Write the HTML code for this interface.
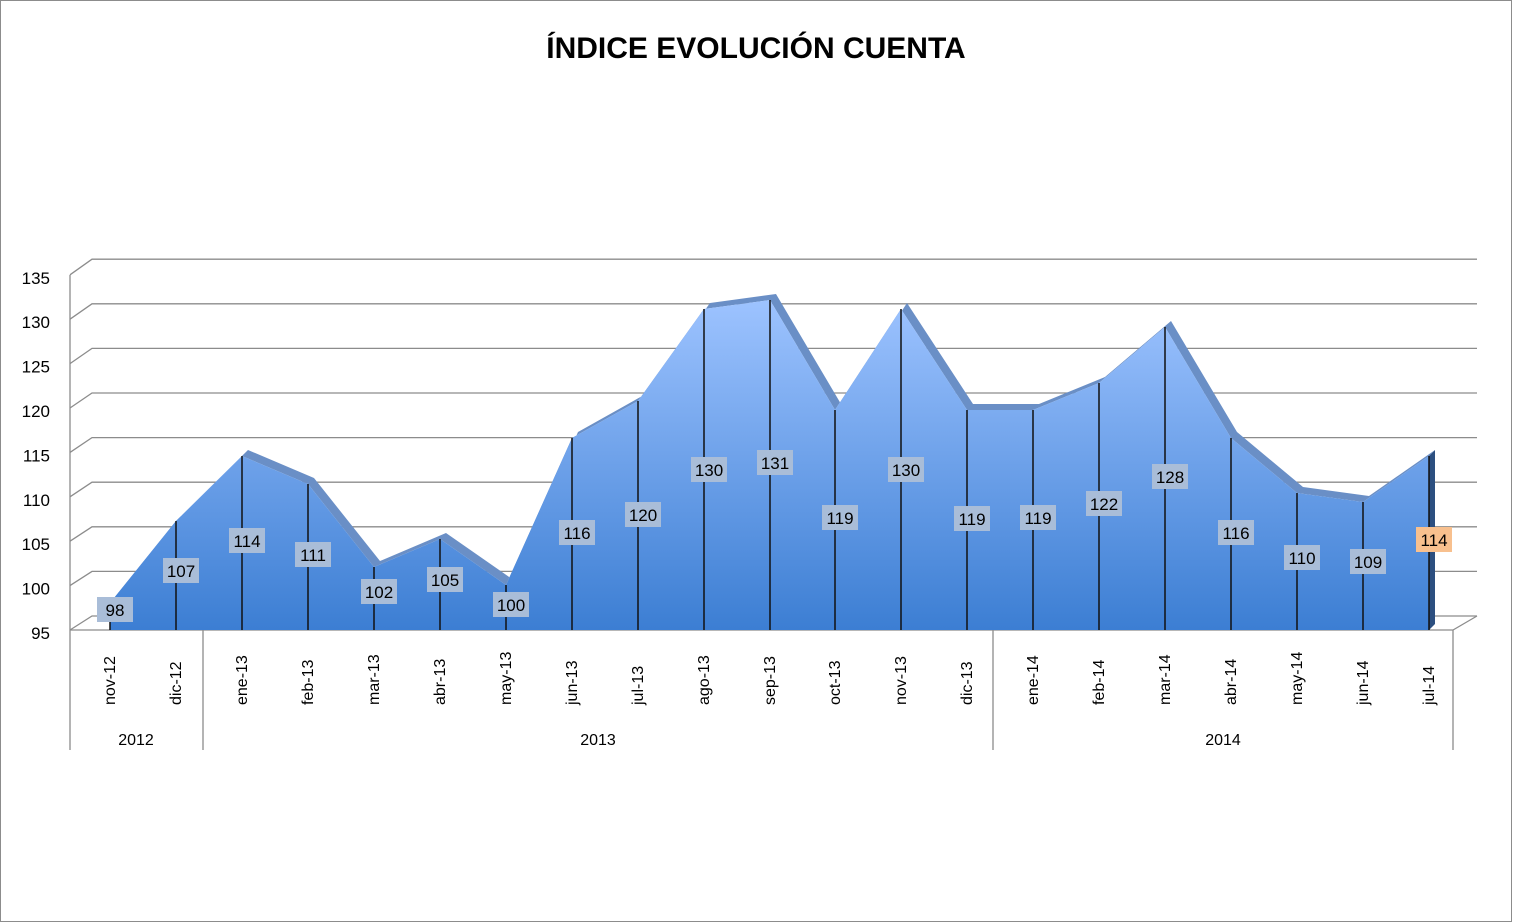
<!DOCTYPE html>
<html><head><meta charset="utf-8"><style>
html,body{margin:0;padding:0;background:#fff;}
svg{display:block;font-family:"Liberation Sans",sans-serif;}
</style></head><body>
<svg width="1513" height="923" viewBox="0 0 1513 923" xmlns="http://www.w3.org/2000/svg">
<defs>
<linearGradient id="ag" gradientUnits="userSpaceOnUse" x1="0" y1="300" x2="0" y2="630">
<stop offset="0" stop-color="#9dc3ff"/><stop offset="1" stop-color="#3c7ed3"/></linearGradient>
</defs>
<rect x="0.5" y="0.5" width="1511" height="921" fill="#fff" stroke="#8c8c8c"/>
<text x="756" y="58" text-anchor="middle" font-size="30" font-weight="bold">ÍNDICE EVOLUCIÓN CUENTA</text>
<g stroke="#8c8c8c" stroke-width="1.3" fill="none">
<path d="M70,630L92,616H1477M70,585.6L92,571.4H1477M70,541.2L92,526.8H1477M70,496.8L92,482.2H1477M70,452.4L92,437.6H1477M70,408L92,393H1477M70,363.6L92,348.4H1477M70,319.2L92,303.8H1477M70,274.8L92,259.2H1477"/>
<path d="M70,630V275M70,630H1453L1477,616M70,630V750M203,630V750M993,630V750M1453,630V750"/>
</g>
<g font-size="17" text-anchor="end">
<text x="50" y="639">95</text><text x="50" y="594.6">100</text><text x="50" y="550.2">105</text><text x="50" y="505.8">110</text><text x="50" y="461.4">115</text><text x="50" y="417">120</text><text x="50" y="372.6">125</text><text x="50" y="328.2">130</text><text x="50" y="283.8">135</text>
</g>
<polygon fill="#6a8fc6" points="110,603 176,521 242,456 308,484 374,567 440,539 506,585 572,438 638,401 704,309 770,300 835,410 901,309 967,410 1033,410 1099,383 1165,327 1231,438 1297,493 1363,502 1429,456 1435,450 1369,496 1303,487 1237,432 1171,321 1105,377 1039,404 973,404 907,303 841,404 776,294 710,303 644,395 578,432 512,579 446,533 380,561 314,478 248,450 182,515 116,597"/>
<polygon fill="url(#ag)" points="110,603 176,521 242,456 308,484 374,567 440,539 506,585 572,438 638,401 704,309 770,300 835,410 901,309 967,410 1033,410 1099,383 1165,327 1231,438 1297,493 1363,502 1429,456 1429,630 110,630"/>
<polygon fill="#2c4f80" points="1429,456 1435,450 1435,624 1429,630"/>
<path stroke="#111" stroke-width="1.5" d="M110,603V630M176,521V630M242,456V630M308,484V630M374,567V630M440,539V630M506,585V630M572,438V630M638,401V630M704,309V630M770,300V630M835,410V630M901,309V630M967,410V630M1033,410V630M1099,383V630M1165,327V630M1231,438V630M1297,493V630M1363,502V630M1429,456V630"/>
<g fill="#a9bdd8">
<rect x="97" y="597" width="36" height="25"/><rect x="163" y="558" width="36" height="25"/><rect x="229" y="528" width="36" height="25"/><rect x="295" y="542" width="36" height="25"/><rect x="361" y="579" width="36" height="25"/><rect x="427" y="567" width="36" height="25"/><rect x="493" y="592" width="36" height="25"/><rect x="559" y="520" width="36" height="25"/><rect x="625" y="502" width="36" height="25"/><rect x="691" y="457" width="36" height="25"/><rect x="757" y="450" width="36" height="25"/><rect x="822" y="505" width="36" height="25"/><rect x="888" y="457" width="36" height="25"/><rect x="954" y="506" width="36" height="25"/><rect x="1020" y="505" width="36" height="25"/><rect x="1086" y="491" width="36" height="25"/><rect x="1152" y="464" width="36" height="25"/><rect x="1218" y="520" width="36" height="25"/><rect x="1284" y="545" width="36" height="25"/><rect x="1350" y="549" width="36" height="25"/>
<rect x="1416" y="527" width="36" height="25" fill="#f8c08e"/>
</g>
<g font-size="17" text-anchor="middle">
<text x="115" y="616">98</text><text x="181" y="577">107</text><text x="247" y="547">114</text><text x="313" y="561">111</text><text x="379" y="598">102</text><text x="445" y="586">105</text><text x="511" y="611">100</text><text x="577" y="539">116</text><text x="643" y="521">120</text><text x="709" y="476">130</text><text x="775" y="469">131</text><text x="840" y="524">119</text><text x="906" y="476">130</text><text x="972" y="525">119</text><text x="1038" y="524">119</text><text x="1104" y="510">122</text><text x="1170" y="483">128</text><text x="1236" y="539">116</text><text x="1302" y="564">110</text><text x="1368" y="568">109</text><text x="1434" y="546">114</text>
</g>
<g font-size="16">
<text transform="translate(115,705) rotate(-90)">nov-12</text>
<text transform="translate(181,705) rotate(-90)">dic-12</text>
<text transform="translate(247,705) rotate(-90)">ene-13</text>
<text transform="translate(313,705) rotate(-90)">feb-13</text>
<text transform="translate(379,705) rotate(-90)">mar-13</text>
<text transform="translate(445,705) rotate(-90)">abr-13</text>
<text transform="translate(511,705) rotate(-90)">may-13</text>
<text transform="translate(577,705) rotate(-90)">jun-13</text>
<text transform="translate(643,705) rotate(-90)">jul-13</text>
<text transform="translate(709,705) rotate(-90)">ago-13</text>
<text transform="translate(775,705) rotate(-90)">sep-13</text>
<text transform="translate(840,705) rotate(-90)">oct-13</text>
<text transform="translate(906,705) rotate(-90)">nov-13</text>
<text transform="translate(972,705) rotate(-90)">dic-13</text>
<text transform="translate(1038,705) rotate(-90)">ene-14</text>
<text transform="translate(1104,705) rotate(-90)">feb-14</text>
<text transform="translate(1170,705) rotate(-90)">mar-14</text>
<text transform="translate(1236,705) rotate(-90)">abr-14</text>
<text transform="translate(1302,705) rotate(-90)">may-14</text>
<text transform="translate(1368,705) rotate(-90)">jun-14</text>
<text transform="translate(1434,705) rotate(-90)">jul-14</text>
<text x="136" y="745" text-anchor="middle">2012</text>
<text x="598" y="745" text-anchor="middle">2013</text>
<text x="1223" y="745" text-anchor="middle">2014</text>
</g>
</svg>
</body></html>
